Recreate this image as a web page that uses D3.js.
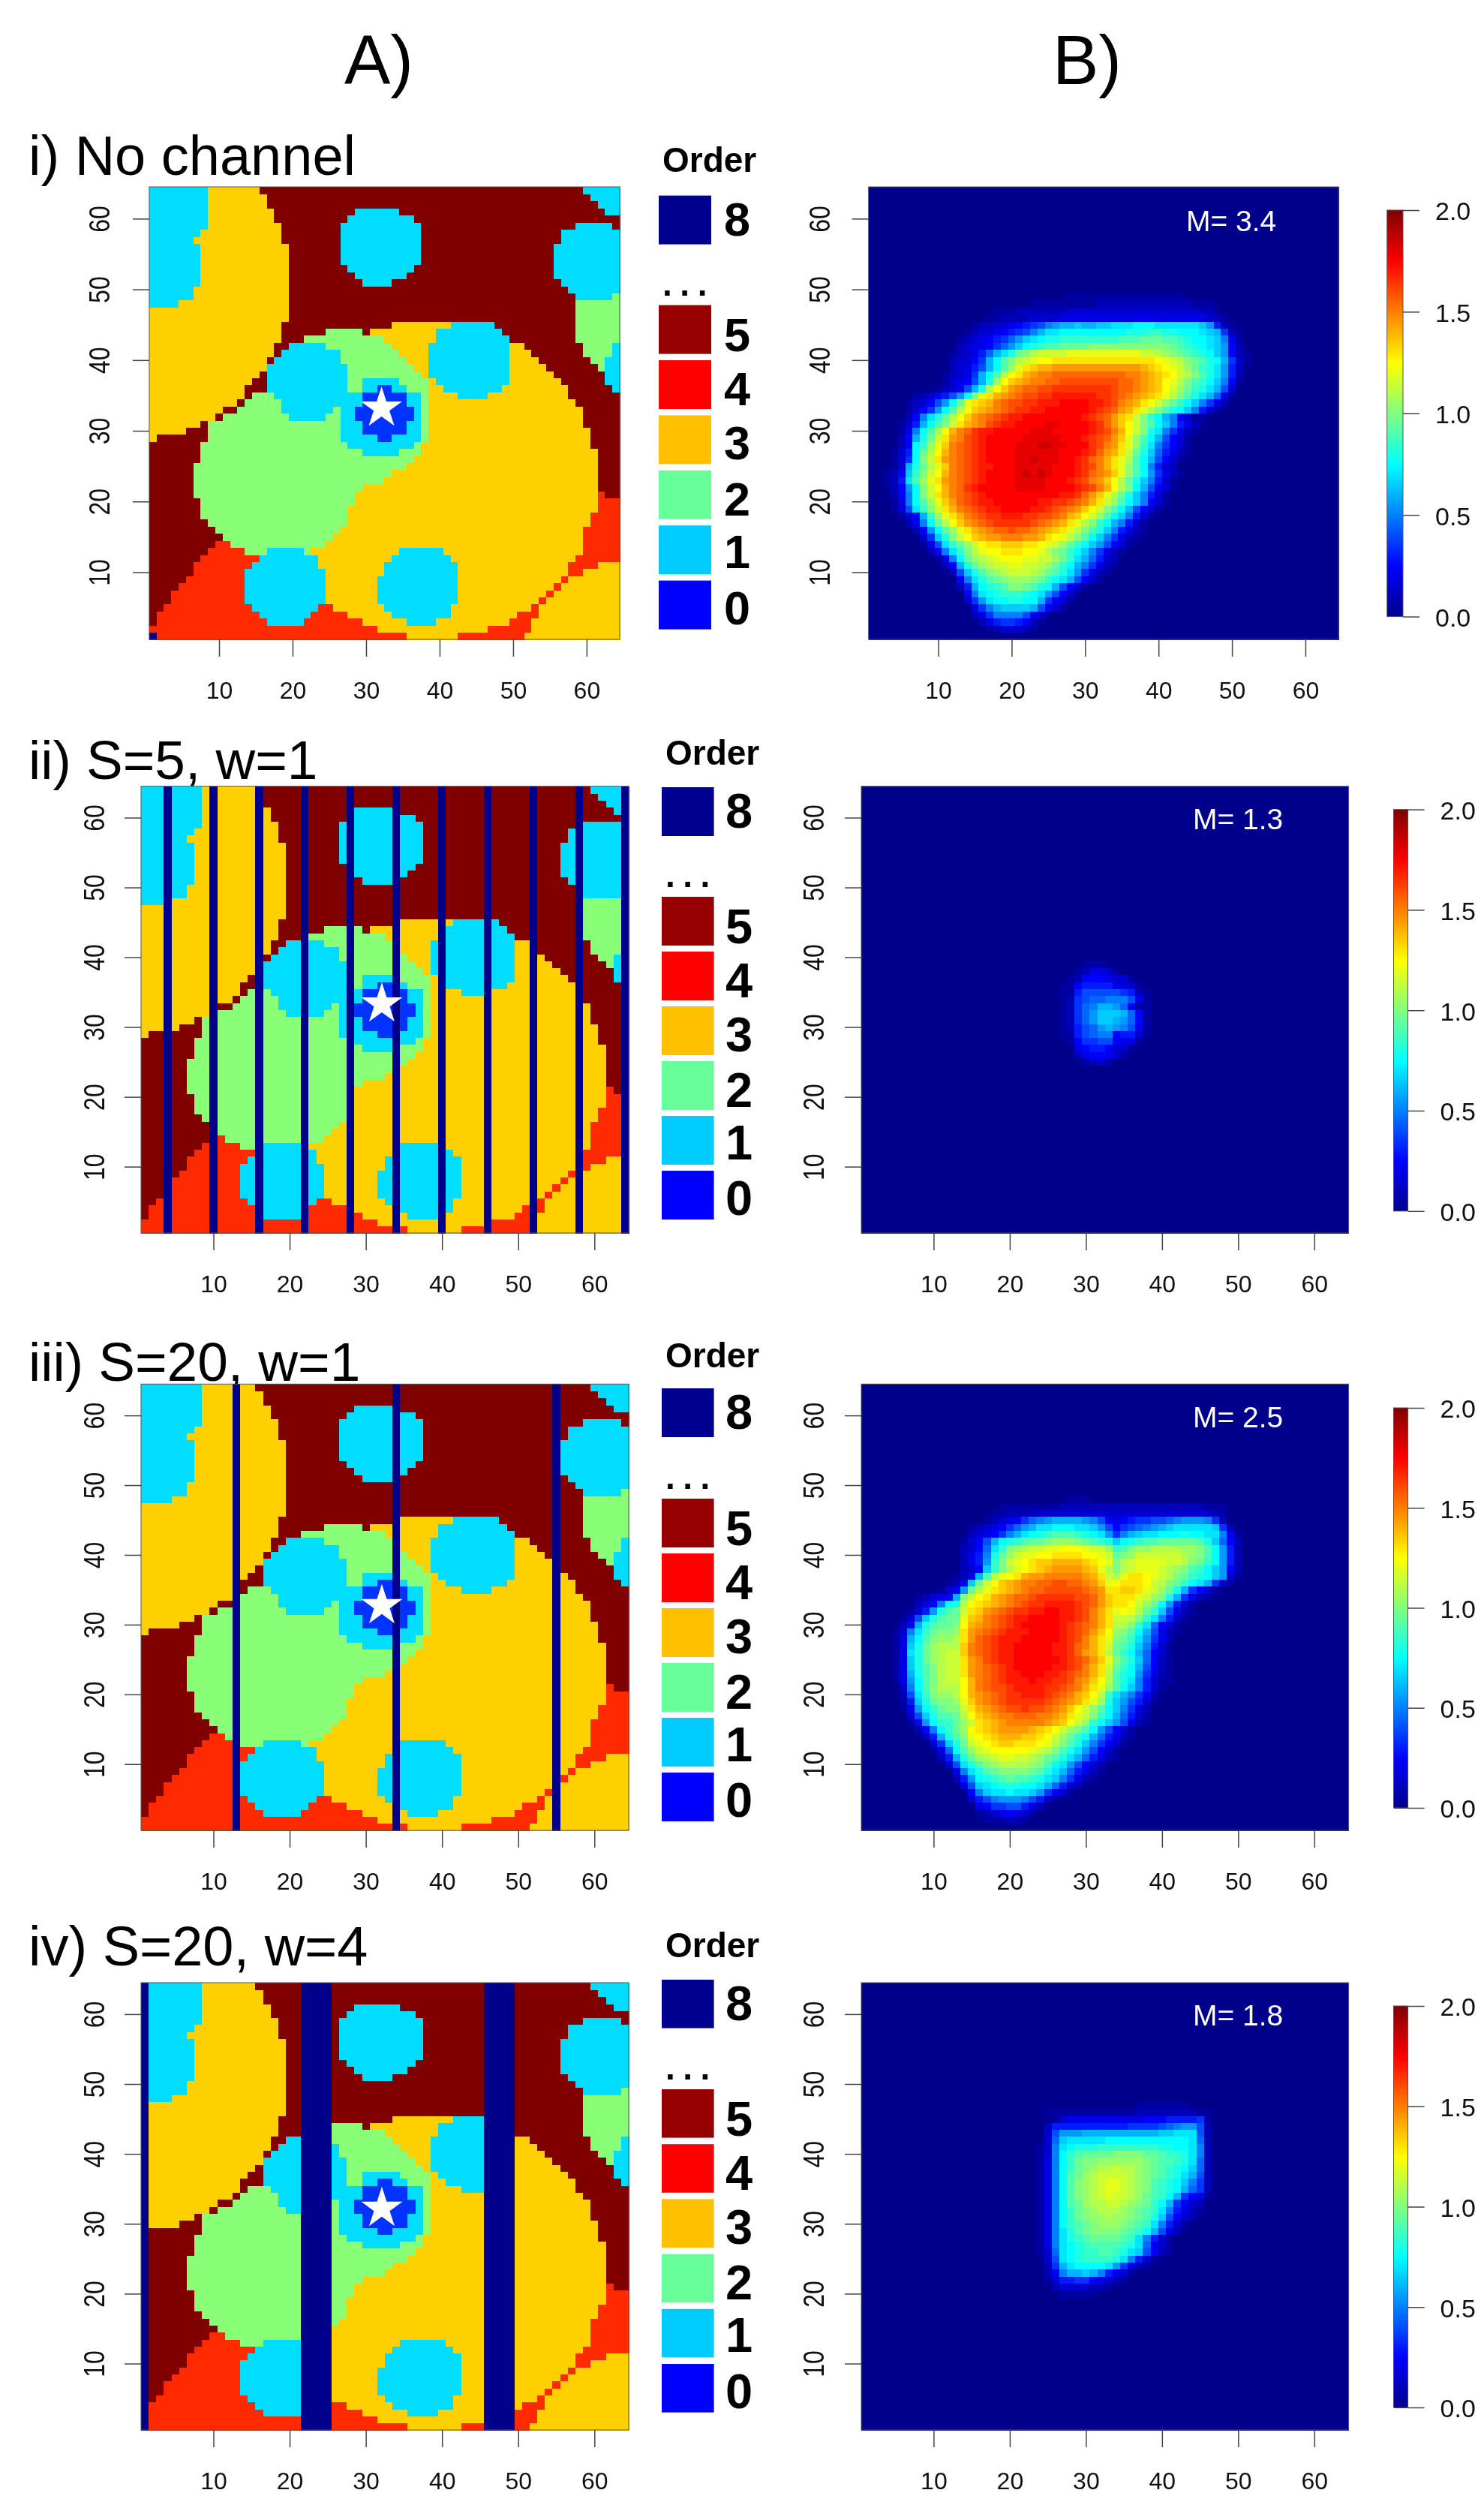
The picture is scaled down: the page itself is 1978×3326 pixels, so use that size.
<!DOCTYPE html>
<html><head><meta charset="utf-8">
<script src="https://cdn.jsdelivr.net/npm/d3@7"></script>
<style>html,body{margin:0;background:#fff}svg{display:block;font-family:"Liberation Sans",Arial,sans-serif;filter:blur(.5px)}</style>
</head><body><svg id="c" width="1978" height="3326"></svg>
<script>
// ---------- data ----------
const gridSize = 64;
const orderLabels = ["8","5","4","3","2","1","0"];
const tickValues = [10,20,30,40,50,60];
const colorbarTicks = [0,0.5,1,1.5,2];
const rowTitles = ["i) No channel","ii) S=5, w=1","iii) S=20, w=1","iv) S=20, w=4"];
const mValues = ["M= 3.4","M= 1.3","M= 2.5","M= 1.8"];
const channelsI = [];
const channelsII = [4,10,16,22,28,34,40,46,52,58,64];
const channelsIII = [13,34,55];
const channelsIV = [1,22,23,24,25,46,47,48,49];
const starColumn = 32.1;
const starRows = [33.2,33.3,32.7,32.2];
// spans: [row high, row low, column from, column to]; everything else is order 5
const spansOrder4 = [[21,21,62,62],[20,14,60,64],[14,14,10,11],[13,13,9,64],[12,12,8,64],[11,10,7,64],[9,9,6,64],[8,8,5,64],[7,6,4,64],[5,5,3,64],[4,3,2,64],[2,1,1,64]];
const spansOrder3 = [[64,64,1,15],[63,62,1,16],[61,60,1,17],[59,57,1,18],[56,46,1,19],[45,43,1,18],[42,41,1,17],[40,39,1,16],[38,38,1,15],[37,37,1,14],[36,35,1,13],[34,34,1,12],[33,33,1,10],[32,32,1,9],[31,31,1,7],[30,30,1,5],[29,29,1,1],
 [45,45,34,41],[44,44,31,39],[43,43,33,39],[42,42,30,51],[41,41,30,52],[40,40,30,53],[39,39,30,54],[38,38,30,55],[37,37,30,56],[36,35,30,57],[34,34,30,58],[33,31,30,59],[30,28,30,60],[27,19,25,61],[18,17,25,60],[16,14,25,59],[13,13,23,59],[12,12,24,58],[11,10,24,57],[9,9,25,56],[8,8,25,55],[7,7,25,54],[6,6,25,53],[5,5,26,52],[4,4,28,50],[3,3,30,49],[2,2,32,46],[1,1,36,42],
 [11,11,62,64],[10,10,60,64],[9,9,58,64],[8,8,57,64],[7,7,56,64],[6,6,55,64],[5,4,54,64],[3,2,53,64],[1,1,52,64]];
const spansOrder2 = [[44,44,25,29],[43,43,22,32],[42,42,20,33],[41,41,19,34],[40,40,18,35],[39,39,17,36],[38,38,17,37],[37,36,17,38],[35,35,15,38],[34,34,14,38],[33,33,13,38],[32,32,11,38],[31,29,9,38],[28,27,8,37],[26,26,8,36],[25,25,7,35],[24,24,7,33],[23,23,7,32],[22,22,7,29],[21,21,7,28],[20,20,8,28],[19,18,8,27],[17,17,9,27],[16,16,10,26],[15,15,11,25],[14,14,12,24],[13,13,14,22],
 [49,49,64,64],[48,43,59,64],[42,41,60,63],[40,40,61,62],[39,39,62,62]];
const spansOrder1 = [[64,59,1,8],[58,58,1,7],[57,57,1,6],[56,51,1,7],[50,49,1,6],[48,48,1,4],
 [64,64,60,64],[63,63,61,64],[62,62,62,64],[61,61,63,64],
 [61,61,29,34],[60,60,28,36],[59,54,27,37],[53,53,28,36],[52,52,29,35],[51,51,30,33],
 [59,59,59,63],[58,57,57,64],[56,52,56,64],[51,51,57,64],[50,50,58,64],[49,49,59,63],
 [42,41,64,64],[40,37,63,64],[36,36,64,64],
 [45,45,42,47],[44,44,40,48],[43,43,40,49],[42,38,39,49],[37,37,40,49],[36,36,41,48],[35,35,43,46],
 [42,42,20,24],[41,41,19,26],[40,40,18,26],[39,36,17,27],[35,35,18,27],[34,34,19,26],[33,33,19,25],[32,32,20,24],
 [37,37,30,34],[36,36,30,35],[35,29,27,37],[28,28,28,36],[27,27,30,34],
 [13,13,17,21],[12,12,16,23],[11,11,15,23],[10,6,14,24],[5,5,15,23],[4,4,16,22],[3,3,17,21],
 [13,13,35,40],[12,12,34,41],[11,10,33,42],[9,6,32,42],[5,5,33,41],[4,4,34,41],[3,3,36,39]];
const spansOrder0 = [[36,36,32,33],[35,34,30,35],[33,32,29,36],[31,30,30,35],[29,29,32,33]];
const cornerCellI = [1,1];
// heat rows: [row, first column, one character per cell]; character index x 0.05 = value
const heatAlphabet = "0123456789abcdefghijklmnopqrstuvwxyzABC";
const heatI = [[49,28,"1111111111111111"],[48,23,"1111111112222222222222111"],[47,18,"1112222222333333333333333333221"],[46,17,"112222333344444444444444444444321"],
[45,15,"1223345678abccdccddeeefffeeeeeedb621"],[44,14,"1233456"+"78ac"+"eeffffffff"+"fggghhggfffe"+"dc721"],[43,13,"123"+"4567"+"9bde"+"fgghhhhhhhh"+"iiijjjiihgff"+"eda41"],[42,13,"234"+"4579"+"bdfg"+"hiijjjjkkkk"+"kkkkkkkjihgf"+"edb52"],
[41,12,"123469cegjkmn"+"nnnooooooo"+"ooonnmlkjihg"+"fdb521"],[40,12,"23357cfikmnop"+"pqqqqqqqqq"+"qqqqq"+"ponmkjigfc731"],[39,12,"23468cfiloqrs"+"s"+"tttttttttttt"+"srqponljhgeb62"],[38,11,"12347cfimpqstu"+"uvvvvvvvvvvuu"+"tsrqpnmkigeb62"],
[37,11,"13458cglprstuu"+"vvwwwwwwww"+"vvutsrpomkihfda51"],[36,10,"12358cgmprtuvv"+"wwxxxxxxxx"+"wvvutsrpnljhgec83"],[35,7,"123568bfkoqstuvwwxxyyyyyyxxwvutsrqomkigec941"],[34,6,"12358bfjoqrsuvwwxxyyyzzzzyyxwutsqpnljhfda742"],
[33,6,"1357bfimprstuvwxxyyzzzzzzyxwvtsqomkigfda631"],[32,6,"25aegjmprtuvwxyyzzzzzzzzyxwvtrqnkhfca5311"],[31,5,"136cfiknqstuwxyyzzzzAAzzzzyxvtrpnkifda6421"],[30,5,"14afilpsuvxyyzzzzzAAAzzzzzyxwuspnkgea7421"],
[29,5,"25cgjnqtuwxyzzzzzAAAAAzzzyxwvtrolifc8531"],[28,5,"25fhloruvwxyzzzzAAABBAAzzzxwutqolhea7531"],[27,4,"136fjmpsuvwxy"+"zzzzAAAAAAzzz"+"yxvtsqnjgd96421"],[26,4,"137fknqtuvwxy"+"zzzzAABAAAzz"+"yxvusqomifc8531"],
[25,4,"13cgjmoruvwxyy"+"zzzAAAAAzzz"+"yxwusqolifa632"],[24,3,"125dhknpsuvwxy"+"zzzzABABAzzz"+"yxvutrolifb7421"],[23,3,"126eiloqtuvwxy"+"zzzzAAAAzzz"+"yxwutrpmjgda631"],[22,3,"125bfknpsuvxy"+"zzzzzAAAAzzzz"+"yxwuspmkfc8531"],
[21,4,"25afknqsuvwxyzzzzzzzzzzyyxvtromjgda631"],[20,4,"14afilortvwxyyzzzzzzyyxxwvusqnlifda531"],[19,4,"138ehknqsuvwxyyzzzzyyxwvutrpnkifc8531"],[18,5,"135chloqsuvwxxyyyxxwwvusrpnlifda631"],
[17,6,"24afjmprtuvwxxxxxwvutsqomkhfca631"],[16,7,"25bfjloqstuvvwvvutsrqomkigda6421"],[15,8,"37dgknprsttuuuttsqpomkifda7421"],[14,8,"148ehjlnpqqrrrqqponljhfdb8531"],
[13,9,"25aehkmoppqqqppomkjhfda7421"],[12,10,"14afjlmnopppoonnljhec9632"],[11,11,"25cgjlmnnoonnmljhfca7421"],[10,12,"28dgiklmnnnmljigeb7421"],
[9,13,"5aegijklllkjhfec8531"],[8,13,"26cfghikkjigfc8531"],[7,14,"5aefghhhgfeb8531"],[6,14,"37beffggffc7531"],[5,15,"47acddddc8531"],[4,15,"247aaaa8531"],[3,16,"246776521"],[2,17,"1233321"]];
const heatII = [[39,30,"111"],[38,29,"124431"],[37,28,"125554331"],[36,27,"11566664431"],[35,27,"116888887621"],[34,27,"127899aaa841"],[33,27,"1279accb951"+"1"],[32,27,"1279bdddc951"],[31,27,"1279bddcb951"],[30,27,"12689bcba841"],[29,27,"11689aa56631"],[28,28,"1577885441"],[27,29,"45665331"],[26,29,"2455431"],[25,30,"1231"]];
const heatIII = [[48,28,"111"],[47,19,"111111112222222222222222222111"],[46,18,"1122223333333333333333333333321"],[45,17,"123457"+"9abccccba854"+"5677889abbba72"],
[44,15,"1234579bce"+"efffeedb85"+"789abcdeee"+"eed72"],[43,15,"23457acefg"+"hiiihgfeb7"+"acdeefffgf"+"feea41"],[42,14,"1358cfghij"+"jklllkjihg"+"dfghiijjjj"+"jigd952"],[41,14,"2359ehklmn"+"noopppon"+"nl"+"hikllmmmml"+"lkifb62"],
[40,14,"246agjlnoo"+"ppqqqqppon"+"jklnnnnnnm"+"lkifb62"],[39,14,"246bhknopq"+"rrssssrqpo"+"kmnoooonnm"+"kjhfb62"],[38,14,"235dhkmopq"+"rsttttsrom"+"kmnooonmlk"+"ihfdb52"],[37,13,"124cimopqs"+"ttuuuuutsq"+"nmoqqponmk"+"jhgfdb31"],
[36,12,"124djnprst"+"uuvvwwvvut"+"ropqqqpnmk"+"jhfec731"],[35,11,"135bjmoqrs"+"tuvvwwwwwv"+"utqqrrqonl"+"jgc7531"],[34,8,"12345cknpq"+"stuvvwxxxx"+"xwwvtrqqqo"+"nlkgc7421"],[33,8,"235afgmpqr"+"stuvwxxyyy"+"yxwvtrqqpn"+"ljfb631"],
[32,7,"136bgijnqr"+"tuvwxxyyzz"+"yyxwusqopo"+"mjhd8421"],[31,6,"138dgijjor"+"suvwxyyzzz"+"zyyxwusqnn"+"mkhea631"],[30,6,"25cgijjkps"+"tuvwxyzzzz"+"zyxwvusqmm"+"khe9531"],[29,5,"13aehjkklq"+"tuvwxyyyzz"+"zzyxwvtrpl"+"kifc8421"],
[28,5,"14cfikllmq"+"tvwxyyyzzz"+"zzyxwusqok"+"jheb742"],[27,5,"14dgjlmmmr"+"uvwxyyzzzz"+"zyyxvusqnj"+"igda631"],[26,5,"14egjlmnnr"+"uvwxyyzzzz"+"zyyxvtsqmj"+"hfc9531"],[25,5,"14dgjlmnnq"+"tuwxyyzzzz"+"zzyxwvtrok"+"igd9521"],
[24,5,"14dgikmnnq"+"tuvwxyzzzz"+"zyyxwusqnj"+"hfc8521"],[23,5,"14cgikmnnq"+"tuvwxyyzzz"+"yyxwvusqmi"+"gfb7421"],[22,5,"14bfikmnnp"+"suvwxyyyzy"+"yxxwutrpmi"+"gea6311"],[21,6,"3afikmmmp"+"suvwwxyyyy"+"xxwvusqoli"+"fda631"],
[20,6,"28ehkllmp"+"stuvwxxyyy"+"xwvusrpmhe"+"ca752"],[19,6,"16dgjkklo"+"rtuvwxxxxx"+"wvutsqolgd"+"b8631"],[18,6,"14bfhjkkn"+"qstuvwwxww"+"vutrpnlifd"+"a742"],[17,7,"38dgiijm"+"prstuuvvvu"+"utsqonkhfc"+"9631"],
[16,7,"15bfhhjl"+"nqrstuuuuu"+"tsrpnlhfdb"+"8521"],[15,8,"25afhjlpqrsttttsrqpnlkifb8531"],[14,9,"26cgikopqrsssrrqpnljhfc96421"],[13,10,"37dgjnopqrrqqqpomkigda7531"],
[12,10,"149filnoppppponmkigeb8531"],[11,11,"26cgjlmnoonnmljigec96421"],[10,12,"38egiklmmmmlkifeb8531"],[9,13,"4aegijkkkkjigec96421"],[8,13,"26bfghijiihgeda7421"],[7,14,"48defgggffec9632"],[6,15,"5adeefeedb7531"],[5,15,"368abbba8631"],[4,16,"457788642"],[3,16,"12345431"],[2,17,"111221"]];
const heatIV = [[47,37,"1111111"],[46,25,"1111111111112222222211"],[45,26,"134444444444555666671"],[44,25,"26666666666777789abb82"],[43,25,"38bbbccccccccccddeee82"],[42,25,"39deeeeefffffffffffe92"],
[41,24,"13aefggghhhhhhhhggffea2"],[40,24,"13afhijjjjkkkkjjihhgea2"],[39,24,"14afhjkkllllllkjiihge92"],[38,24,"14afhjklmmnmmlkjihgfd92"],[37,24,"14afijlmnnnnmlkjihgec82"],[36,24,"14afiklmnoonmlkihgfda72"],[35,24,"14afiklmnoonmlkihgfc972"],[34,24,"14afiklmnonnmljihfc7541"],
[33,24,"14afijlmmnnmlkjhfc7532"],[32,24,"14afhjklmmmlkjihea6421"],[31,24,"14afhjkllmllkjigd8532"],[30,24,"14afhijklllkjihea631"],[29,24,"14aegijkkkkjihfc842"],[28,24,"14aeghijjjjihea631"],[27,24,"14aefghiiiihge9531"],[26,24,"139efghhiihged8521"],
[25,25,"38efghhhhgea631"],[24,25,"27ceffffeb7421"],[23,25,"25accdca6431"],[22,25,"13667754321"],[21,26,"23333221"],[20,27,"11111"]];
// ---------- styles and layout ----------
const legendColors = {8:"#000090",5:"#960000",4:"#ff0000",3:"#ffc000",2:"#66ff99",1:"#00ccff",0:"#0000ff"};
const mapColors = {8:"#00008b",5:"#800000",4:"#ff2a00",3:"#ffd000",2:"#88ff77",1:"#00ddff",0:"#0033ff"};
const heatColor = d3.scaleLinear().domain([0,.25,.75,1.25,1.75,2]).range(["#00008b","#0000ff","#00ffff","#ffff00","#ff0000","#800000"]);
const layout = [
 {channels:channelsI,corner:cornerCellI,heat:heatI,
  A:{x:[198.9,826],y:[852,249],lab:53},B:{x:[1157.6,1784],y:[852,249],lab:52},
  cb:{x:[1848.7,1870],y:[821.6,280]},title:233,titleSize:74,m:[1581,307.6],
  leg:{x:[878,948],t8:260.6,t5:406.6,h:65,step:73.4,order:229,orderX:883,dots:388,digit:63,digitX:965}},
 {channels:channelsII,heat:heatII,
  A:{x:[188,838],y:[1643,1047.7],lab:49},B:{x:[1148,1797.5],y:[1643,1047.7],lab:50},
  cb:{x:[1857.5,1876.6],y:[1613.8,1078.6]},title:1037.5,titleSize:73,m:[1590,1105],
  leg:{x:[882,951.6],t8:1049,t5:1195,h:65,step:73,order:1019,orderX:887,dots:1176,digit:65,digitX:967}},
 {channels:channelsIII,heat:heatIII,
  A:{x:[188,838],y:[2439,1844.3],lab:49},B:{x:[1148,1797.5],y:[2439,1844.3],lab:50},
  cb:{x:[1857.5,1876.6],y:[2409,1876]},title:1840,titleSize:73,m:[1590,1902],
  leg:{x:[882,951.6],t8:1850,t5:1997,h:65,step:73,order:1822,orderX:887,dots:1977.5,digit:65,digitX:967}},
 {channels:channelsIV,heat:heatIV,
  A:{x:[188,838],y:[3238,2642],lab:49},B:{x:[1148,1797.5],y:[3238,2642],lab:50},
  cb:{x:[1857.5,1876.6],y:[3208,2673]},title:2619,titleSize:74,m:[1590,2699],
  leg:{x:[882,951.6],t8:2638,t5:2784,h:64.6,step:73.2,order:2608,orderX:887,dots:2764.6,digit:65,digitX:967}}
];
const digitNudge = {8:-2,5:6,4:5,3:4,2:5,1:2,0:3};

// ---------- build ----------
const svg = d3.select("#c");
svg.append("rect").attr("width",1978).attr("height",3326).attr("fill","#fff");
svg.append("text").attr("x",459).attr("y",112).attr("font-size",92).text("A)");
svg.append("text").attr("x",1403).attr("y",112).attr("font-size",92).text("B)");

function baseGrid(){
  const g = d3.range(gridSize+1).map(()=>new Array(gridSize+1).fill(5));
  [[spansOrder4,4],[spansOrder3,3],[spansOrder2,2],[spansOrder1,1],[spansOrder0,0]].forEach(([spans,o])=>{
    spans.forEach(([hi,lo,a,b])=>{for(let y=lo;y<=hi;y++)for(let x=a;x<=b;x++)g[y][x]=o;});
  });
  return g;
}
function cellsOf(g){const out=[];for(let y=1;y<=gridSize;y++)for(let x=1;x<=gridSize;x++)out.push({x,y,v:g[y][x]});return out;}

function axes(g,x,y,box,lab){
  const bottom=g.append("g").attr("transform",`translate(0,${box.y[0]})`)
    .call(d3.axisBottom(x).tickValues(tickValues).tickSize(23).tickSizeOuter(0).tickPadding(33));
  const left=g.append("g").attr("transform",`translate(${box.x[0]},0)`)
    .call(d3.axisLeft(y).tickValues(tickValues).tickSize(22).tickSizeOuter(0));
  left.selectAll("text").attr("transform","rotate(-90) scale(1,1.2)").attr("x",0).attr("dy",0).attr("y",-lab/1.2).attr("text-anchor","middle");
  [bottom,left].forEach(a=>{
    a.select(".domain").remove();
    a.selectAll("line").attr("stroke","#444").attr("stroke-width",1.5);
    a.selectAll("text").attr("font-size",32).attr("font-family","Liberation Sans").attr("fill","#111");
  });
}
function frame(g,box){
  g.append("rect").attr("x",box.x[0]).attr("y",box.y[1]).attr("width",box.x[1]-box.x[0]).attr("height",box.y[0]-box.y[1])
   .attr("fill","none").attr("stroke","#555").attr("stroke-width",1);
}
function drawCells(g,cells,x,y,color){
  const w=Math.abs(x(2)-x(1)),h=Math.abs(y(2)-y(1));
  g.append("g").attr("shape-rendering","crispEdges").selectAll("rect").data(cells).join("rect")
   .attr("x",d=>x(d.x-.5)).attr("y",d=>y(d.y+.5)).attr("width",w+.6).attr("height",h+.6).attr("fill",color);
}

layout.forEach((r,i)=>{
  const g=svg.append("g");
  g.append("text").attr("x",38).attr("y",r.title).attr("font-size",r.titleSize).text(rowTitles[i]);

  // panel A
  const ax=d3.scaleLinear([.5,64.5],r.A.x), ay=d3.scaleLinear([.5,64.5],r.A.y);
  const grid=baseGrid();
  r.channels.forEach(c=>{for(let y=1;y<=gridSize;y++)grid[y][c]=8;});
  if(r.corner)grid[r.corner[1]][r.corner[0]]=8;
  drawCells(g,cellsOf(grid),ax,ay,d=>mapColors[d.v]);
  frame(g,r.A);
  axes(g,ax,ay,r.A,r.A.lab);
  g.append("path").attr("d",d3.symbol(d3.symbolStar,940)()).attr("fill","#fff")
    .attr("transform",`translate(${ax(starColumn)},${ay(starRows[i])})`);

  // legend
  const L=r.leg;
  g.append("text").attr("x",L.orderX).attr("y",L.order).attr("font-size",46).attr("font-weight","bold").text("Order");
  const tops=orderLabels.map((o,k)=>k===0?L.t8:L.t5+(k-1)*L.step);
  g.selectAll(null).data(orderLabels).join("rect").attr("x",L.x[0]).attr("width",L.x[1]-L.x[0]).attr("height",L.h)
    .attr("y",(o,k)=>tops[k]).attr("fill",o=>legendColors[o]);
  g.selectAll(null).data(orderLabels).join("text").attr("x",L.digitX).attr("font-size",L.digit).attr("font-weight","bold")
    .attr("y",(o,k)=>tops[k]+L.h/2+L.digit*.358+digitNudge[o]).text(o=>o);
  g.append("text").attr("x",(L.x[0]+L.x[1])/2+5).attr("y",L.dots+6).attr("text-anchor","middle").attr("font-size",46).attr("font-weight","bold").attr("letter-spacing",10.5).text("...");

  // panel B
  const bx=d3.scaleLinear([.5,64.5],r.B.x), by=d3.scaleLinear([.5,64.5],r.B.y);
  const hv=d3.range(gridSize+1).map(()=>new Array(gridSize+1).fill(0));
  r.heat.forEach(([y,x0,s])=>{[...s].forEach((ch,k)=>{hv[y][x0+k]=heatAlphabet.indexOf(ch)*.05;});});
  drawCells(g,cellsOf(hv),bx,by,d=>heatColor(d.v));
  frame(g,r.B);
  axes(g,bx,by,r.B,r.B.lab);
  g.append("text").attr("x",r.m[0]).attr("y",r.m[1]).attr("font-size",39).attr("fill","#fff").text(mValues[i]);

  // colour bar
  const cy=d3.scaleLinear([0,2],r.cb.y);
  const steps=d3.range(0,128).map(k=>k/128*2);
  g.append("g").attr("shape-rendering","crispEdges").selectAll("rect").data(steps).join("rect")
    .attr("x",r.cb.x[0]).attr("width",r.cb.x[1]-r.cb.x[0]).attr("y",d=>cy(d+2/128)).attr("height",Math.abs(cy(0)-cy(2/128))+.6)
    .attr("fill",d=>heatColor(d+1/128));
  const ca=g.append("g").attr("transform",`translate(${r.cb.x[1]},0)`)
    .call(d3.axisRight(cy).tickValues(colorbarTicks).tickFormat(d3.format(".1f")).tickSize(22).tickSizeOuter(0).tickPadding(21));
  ca.select(".domain").remove();
  ca.selectAll("line").attr("stroke","#444").attr("stroke-width",1.5);
  ca.selectAll("text").attr("font-size",34).attr("font-family","Liberation Sans").attr("fill","#111").attr("dy",".38em");
  g.append("rect").attr("x",r.cb.x[0]).attr("y",r.cb.y[1]).attr("width",r.cb.x[1]-r.cb.x[0]).attr("height",r.cb.y[0]-r.cb.y[1])
    .attr("fill","none").attr("stroke","#555").attr("stroke-width",1);
});
</script></body></html>
